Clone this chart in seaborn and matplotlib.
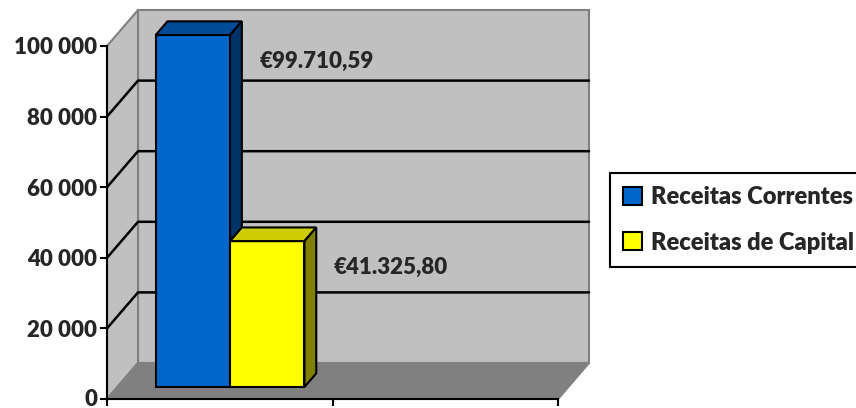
import matplotlib
matplotlib.use("Agg")
import matplotlib.pyplot as plt
from matplotlib.patches import Polygon, Patch
from matplotlib.transforms import ScaledTranslation
import seaborn as sns
import pandas as pd

# Data
categories = ["", " "]  # second category slot is empty in the original
series = ["Receitas Correntes", "Receitas de Capital"]
values = [99710.59, 41325.80]
front_colors = ["#0066CC", "#FFFF00"]
top_colors = ["#004C99", "#CCCC00"]
side_colors = ["#003366", "#808000"]
y_ticks = [0, 20000, 40000, 60000, 80000, 100000]

sns.set_style("white")
plt.rcParams["font.family"] = ["Lato", "DejaVu Sans"]
plt.rcParams["font.weight"] = "heavy"
WEIGHT = "heavy"

fig = plt.figure(figsize=(8.56, 4.08), dpi=100)
ax = fig.add_axes([107 / 856, 9 / 408, 451 / 856, 353 / 408])
ax.patch.set_visible(False)

df = pd.DataFrame({"cat": categories[0], "series": series, "value": values})
sns.barplot(
    data=df, x="cat", y="value", hue="series",
    order=categories, hue_order=series, palette=front_colors,
    width=0.66, saturation=1, edgecolor="black", linewidth=1.5,
    legend=False, ax=ax,
)
ax.set_xlim(-0.5, 1.5)
ax.set_ylim(0, 100000)

# pseudo 3D: depth of the "room" in pixels
DX, DY = 31, 36
ppx = ax.bbox.width / 2.0
ppy = ax.bbox.height / 100000.0


def p(x, y, d):
    return (x + d * DX / ppx, y + d * DY / ppy)


x0, x1, ymax = -0.5, 1.5, 100000
wall_kw = dict(edgecolor="#808080", linewidth=1.5, clip_on=False, zorder=0)
ax.add_patch(Polygon([p(x0, 0, 1), p(x1, 0, 1), p(x1, ymax, 1), p(x0, ymax, 1)],
                     facecolor="#C0C0C0", **wall_kw))
ax.add_patch(Polygon([p(x0, 0, 0), p(x0, ymax, 0), p(x0, ymax, 1), p(x0, 0, 1)],
                     facecolor="#C0C0C0", **wall_kw))
ax.add_patch(Polygon([p(x0, 0, 0), p(x1, 0, 0), p(x1, 0, 1), p(x0, 0, 1)],
                     facecolor="#808080", **wall_kw))

for v in y_ticks[1:-1]:
    a, b, c = p(x0, v, 0), p(x0, v, 1), p(x1, v, 1)
    ax.plot([a[0], b[0], c[0]], [a[1], b[1], c[1]], color="black",
            linewidth=1.8, clip_on=False, zorder=1)

# bars: move front faces back a bit and add top/side faces
d0, d1 = 1 / 3, 1 / 3 + 0.38
for i, cont in enumerate(ax.containers):
    for bar in cont:
        x, w, h = bar.get_x(), bar.get_width(), bar.get_height()
        bar.set_xy(p(x, 0, d0))
        bar.set_clip_on(False)
        bar.set_zorder(3 + i)
        ax.add_patch(Polygon([p(x, h, d0), p(x + w, h, d0), p(x + w, h, d1), p(x, h, d1)],
                             facecolor=top_colors[i], edgecolor="black", linewidth=1.5,
                             clip_on=False, zorder=3 + i))
        ax.add_patch(Polygon([p(x + w, 0, d0), p(x + w, h, d0), p(x + w, h, d1), p(x + w, 0, d1)],
                             facecolor=side_colors[i], edgecolor="black", linewidth=1.5,
                             clip_on=False, zorder=3 + i))
        label = "€" + f"{values[i]:,.2f}".replace(",", "X").replace(".", ",").replace("X", ".")
        ax.annotate(label, xy=p(x + w, h, d0), xytext=(21, -19), textcoords="offset points",
                    ha="left", va="center", fontsize=16, fontweight=WEIGHT,
                    annotation_clip=False, zorder=10)

ax.set_yticks(y_ticks)
ax.set_yticklabels([f"{v:,}".replace(",", " ") for v in y_ticks])
ax.set_xticks([-0.5, 0.5, 1.5])
ax.set_xticklabels([])
ax.set_xlabel("")
ax.set_ylabel("")
ax.tick_params(axis="both", direction="out", length=5, width=1.5, color="black",
               labelsize=16, left=True, bottom=True, pad=2)
for lab in ax.get_yticklabels():
    lab.set_fontweight(WEIGHT)
# keep the "0" label inside the picture
zero_lab = ax.get_yticklabels()[0]
zero_lab.set_transform(zero_lab.get_transform() + ScaledTranslation(0, 0.02, fig.dpi_scale_trans))
for s in ["top", "right"]:
    ax.spines[s].set_visible(False)
for s in ["left", "bottom"]:
    ax.spines[s].set_color("black")
    ax.spines[s].set_linewidth(1.5)

handles = [Patch(facecolor=c, edgecolor="black", linewidth=1.5) for c in front_colors]
leg = ax.legend(handles, series, loc="upper left", bbox_to_anchor=(610 / 856, 1 - 173 / 408),
                bbox_transform=fig.transFigure, frameon=True, fancybox=False,
                edgecolor="black", prop={"size": 17, "weight": WEIGHT},
                handlelength=0.8, handleheight=0.8,
                handletextpad=0.4, labelspacing=1.0, borderpad=0.55, borderaxespad=0)
leg.get_frame().set_linewidth(1.5)
leg.get_frame().set_alpha(1)

fig.savefig("out.png", dpi=100)
